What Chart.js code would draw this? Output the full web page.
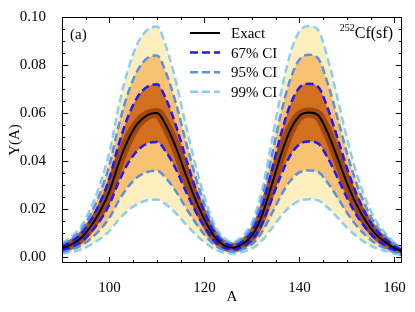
<!DOCTYPE html>
<html>
<head>
<meta charset="utf-8">
<script src="https://cdn.jsdelivr.net/npm/chart.js@4.4.0/dist/chart.umd.min.js"></script>
<style>
  html, body { margin: 0; padding: 0; background: #fff; }
  #wrap { width: 415px; height: 312px; }
</style>
</head>
<body>
<div id="wrap"><canvas id="c"></canvas></div>
<script>
// Y(A) do 252Cf(sf): curva exata e bandas de confiança
const MASSES = [90, 92, 94, 96, 98, 100, 102, 104, 106, 108, 110, 112, 114, 116, 118, 120, 122, 124, 126,
  128, 130, 132, 134, 136, 138, 140, 142, 144, 146, 148, 150, 152, 154, 156, 158, 160, 162];
const EXACT = [0.0037, 0.0054, 0.0080, 0.0127, 0.0190, 0.0275, 0.0395, 0.0492, 0.0558, 0.0592, 0.0600, 0.0545, 0.0457,
  0.0348, 0.0245, 0.0157, 0.0088, 0.0051, 0.0040, 0.0055, 0.0090, 0.0168, 0.0290, 0.0420, 0.0526, 0.0588, 0.0602,
  0.0590, 0.0515, 0.0415, 0.0310, 0.0220, 0.0150, 0.0097, 0.0064, 0.0038, 0.0022];
const CI67_UP = [0.0044, 0.0065, 0.0096, 0.0152, 0.0228, 0.0330, 0.0474, 0.0590, 0.0670, 0.0710, 0.0720, 0.0654, 0.0548,
  0.0418, 0.0294, 0.0188, 0.0106, 0.0061, 0.0048, 0.0066, 0.0108, 0.0202, 0.0348, 0.0504, 0.0631, 0.0706, 0.0722,
  0.0708, 0.0618, 0.0498, 0.0372, 0.0264, 0.0180, 0.0116, 0.0077, 0.0046, 0.0026];
const CI67_LO = [0.0030, 0.0043, 0.0064, 0.0102, 0.0152, 0.0220, 0.0316, 0.0394, 0.0446, 0.0474, 0.0480, 0.0436, 0.0366,
  0.0278, 0.0196, 0.0126, 0.0070, 0.0041, 0.0032, 0.0044, 0.0072, 0.0134, 0.0232, 0.0336, 0.0421, 0.0470, 0.0482,
  0.0472, 0.0412, 0.0332, 0.0248, 0.0176, 0.0120, 0.0078, 0.0051, 0.0030, 0.0018];
const CI95_UP = [0.0052, 0.0076, 0.0112, 0.0178, 0.0266, 0.0385, 0.0553, 0.0689, 0.0781, 0.0829, 0.0840, 0.0763, 0.0640,
  0.0487, 0.0343, 0.0220, 0.0123, 0.0071, 0.0056, 0.0077, 0.0126, 0.0235, 0.0406, 0.0588, 0.0736, 0.0823, 0.0843,
  0.0826, 0.0721, 0.0581, 0.0434, 0.0308, 0.0210, 0.0136, 0.0090, 0.0053, 0.0031];
const CI95_LO = [0.0022, 0.0032, 0.0048, 0.0076, 0.0114, 0.0165, 0.0237, 0.0295, 0.0335, 0.0355, 0.0360, 0.0327, 0.0274,
  0.0209, 0.0147, 0.0094, 0.0053, 0.0031, 0.0024, 0.0033, 0.0054, 0.0101, 0.0174, 0.0252, 0.0316, 0.0353, 0.0361,
  0.0354, 0.0309, 0.0249, 0.0186, 0.0132, 0.0090, 0.0058, 0.0038, 0.0023, 0.0013];
const CI99_UP = [0.0059, 0.0086, 0.0128, 0.0203, 0.0304, 0.0440, 0.0632, 0.0787, 0.0893, 0.0947, 0.0960, 0.0872, 0.0731,
  0.0557, 0.0392, 0.0251, 0.0141, 0.0082, 0.0064, 0.0088, 0.0144, 0.0269, 0.0464, 0.0672, 0.0842, 0.0941, 0.0963,
  0.0944, 0.0824, 0.0664, 0.0496, 0.0352, 0.0240, 0.0155, 0.0102, 0.0061, 0.0035];
const CI99_LO = [0.0015, 0.0022, 0.0032, 0.0051, 0.0076, 0.0110, 0.0158, 0.0197, 0.0223, 0.0237, 0.0240, 0.0218, 0.0183,
  0.0139, 0.0098, 0.0063, 0.0035, 0.0020, 0.0016, 0.0022, 0.0036, 0.0067, 0.0116, 0.0168, 0.0210, 0.0235, 0.0241,
  0.0236, 0.0206, 0.0166, 0.0124, 0.0088, 0.0060, 0.0039, 0.0026, 0.0015, 0.0009];
const X_TICKS = [100, 120, 140, 160];
const Y_TICKS = [0, 0.02, 0.04, 0.06, 0.08, 0.10];
const LEGENDA = [
  { label: 'Exact', color: '#000000', dash: [] },
  { label: '67% CI', color: '#1a1aff', dash: [8, 4] },
  { label: '95% CI', color: '#5b8fe3', dash: [8, 4] },
  { label: '99% CI', color: '#8ccdf8', dash: [8, 4] },
];

const SERIF = "'Liberation Serif', 'Times New Roman', serif";
const pts = arr => arr.map((y, i) => ({ x: MASSES[i], y }));

function linha(data, cor, dash, w) {
  return { data: pts(data), borderColor: cor, borderDash: dash, borderWidth: w, pointRadius: 0, fill: false, cubicInterpolationMode: 'monotone' };
}
function banda(data, alvo, cor) {
  return { data: pts(data), borderWidth: 0, borderColor: 'transparent', pointRadius: 0, backgroundColor: cor, fill: alvo, cubicInterpolationMode: 'monotone' };
}

// moldura com ticks para dentro nos quatro lados, legenda e rótulos
const moldura = {
  id: 'moldura',
  afterDatasetsDraw(chart) {
    const { ctx, chartArea: a, scales: { x, y } } = chart;
    ctx.save();
    ctx.strokeStyle = '#000';
    ctx.lineWidth = 1;
    ctx.strokeRect(Math.round(a.left) + 0.5, Math.round(a.top) + 0.5, Math.round(a.right - a.left) - 1, Math.round(a.bottom - a.top) - 1);
    ctx.beginPath();
    for (let v = 90; v <= 161; v += 5) {
      const px = Math.round(x.getPixelForValue(v)) + 0.5;
      const len = v % 20 === 0 ? 6 : 3;
      ctx.moveTo(px, a.bottom); ctx.lineTo(px, a.bottom - len);
      ctx.moveTo(px, a.top); ctx.lineTo(px, a.top + len);
    }
    for (let i = 0; i <= 20; i++) {
      const v = i * 0.005;
      const py = Math.round(y.getPixelForValue(v)) + 0.5;
      const len = i % 4 === 0 ? 6 : 3;
      ctx.moveTo(a.left, py); ctx.lineTo(a.left + len, py);
      ctx.moveTo(a.right, py); ctx.lineTo(a.right - len, py);
    }
    ctx.stroke();

    // legenda
    ctx.font = `15px ${SERIF}`;
    ctx.textBaseline = 'middle';
    ctx.textAlign = 'left';
    LEGENDA.forEach((it, i) => {
      const yy = 33 + i * 19.6;
      ctx.beginPath();
      ctx.strokeStyle = it.color;
      ctx.lineWidth = it.dash.length ? 2.5 : 2;
      ctx.setLineDash(it.dash);
      ctx.moveTo(190, yy); ctx.lineTo(220, yy);
      ctx.stroke();
      ctx.setLineDash([]);
      ctx.fillStyle = '#000';
      ctx.fillText(it.label, 231, yy + 1);
    });

    ctx.fillText('(a)', 70, 35);
    ctx.textAlign = 'right';
    ctx.font = `16px ${SERIF}`;
    ctx.fillText('Cf(sf)', 393, 34);
    const w = ctx.measureText('Cf(sf)').width;
    ctx.font = `10px ${SERIF}`;
    ctx.fillText('252', 393 - w, 28);
    ctx.restore();
  },
};

new Chart(document.getElementById('c'), {
  type: 'line',
  data: {
    datasets: [
      linha(EXACT, '#000000', [], 2),
      linha(CI67_UP, '#1a1aff', [8, 4], 2.5),
      linha(CI67_LO, '#1a1aff', [8, 4], 2.5),
      linha(CI95_UP, '#5b8fe3', [8, 4], 2.5),
      linha(CI95_LO, '#5b8fe3', [8, 4], 2.5),
      linha(CI99_UP, '#8ccdf8', [8, 4], 2.5),
      linha(CI99_LO, '#8ccdf8', [8, 4], 2.5),
      linha(EXACT, 'rgba(150,62,8,0.8)', [], 10),
      banda(CI67_UP, 2, '#d2701f'),
      banda(CI95_UP, 4, '#f8c274'),
      banda(CI99_UP, 6, '#fdefbd'),
    ],
  },
  options: {
    responsive: true,
    maintainAspectRatio: false,
    animation: false,
    layout: { padding: { top: 15, right: 13, left: 0, bottom: 0 } },
    plugins: { legend: { display: false }, tooltip: { enabled: false } },
    scales: {
      x: {
        type: 'linear', min: 90, max: 161.6,
        grid: { display: false }, border: { display: false },
        afterBuildTicks: s => { s.ticks = X_TICKS.map(v => ({ value: v })); },
        afterFit: s => { s.height = 49; },
        ticks: { color: '#000', padding: 8, maxRotation: 0, font: { family: SERIF, size: 15 } },
        title: { display: true, text: 'A', color: '#000', padding: { top: 0, bottom: 6 }, font: { family: SERIF, size: 15 } },
      },
      y: {
        min: -0.0024, max: 0.1,
        grid: { display: false }, border: { display: false },
        afterBuildTicks: s => { s.ticks = Y_TICKS.map(v => ({ value: v })); },
        afterFit: s => { s.width = 62; },
        ticks: { color: '#000', padding: 8, callback: v => v.toFixed(2), font: { family: SERIF, size: 15 } },
        title: { display: true, text: 'Y(A)', color: '#000', padding: { top: 6, bottom: 0 }, font: { family: SERIF, size: 15 } },
      },
    },
  },
  plugins: [moldura],
});
</script>
</body>
</html>
